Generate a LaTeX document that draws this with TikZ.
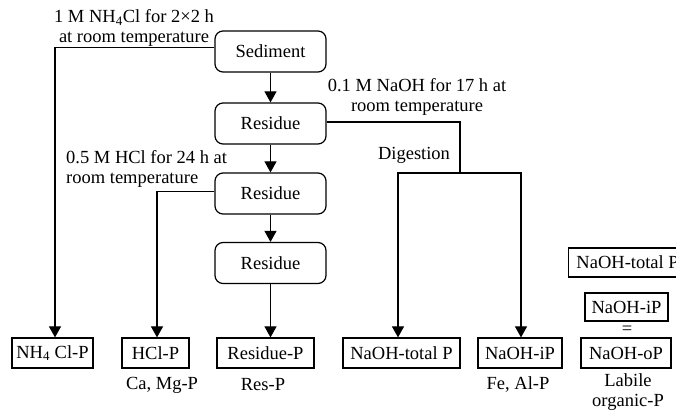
\documentclass[tikz,border=0pt]{standalone}
\usepackage{fontspec}
\setmainfont{Liberation Serif}
\usetikzlibrary{arrows.meta}
\begin{document}
\begin{tikzpicture}[x=1pt,y=-1pt,
  every node/.style={font=\fontsize{18.5}{20}\selectfont, inner sep=0pt},
  rbox/.style={draw, line width=1.2pt, rounded corners=8pt, minimum width=111pt, minimum height=41pt},
  sbox/.style={draw, line width=1.2pt, minimum height=30pt},
  conn/.style={line width=1.1pt},
  arr/.style={line width=1.1pt, -{Triangle[width=12pt,length=11pt]}}]
\clip (0,0) rectangle (676,411);
% main column
\node[rbox] (sed) at (270.5,51.5) {Sediment};
\node[rbox] (r1) at (270.5,123.5) {Residue};
\node[rbox] (r2) at (270.5,193.5) {Residue};
\node[rbox] (r3) at (270.5,263) {Residue};
% bottom boxes
\node[sbox, minimum width=81pt] (nh4) at (52.5,353) {NH\textsubscript{4} Cl-P};
\node[sbox, minimum width=67pt] (hcl) at (155.5,353) {HCl-P};
\node[sbox, minimum width=97pt] (resp) at (265.5,353) {Residue-P};
\node[sbox, minimum width=117pt] (ntot) at (401.5,353) {NaOH-total P};
\node[sbox, minimum width=84pt] (nip) at (520,353) {NaOH-iP};
\node[sbox, minimum width=90pt] (nop) at (626,353) {NaOH-oP};
% right column
\node[sbox, minimum height=29pt, anchor=west, inner xsep=6pt, minimum width=118pt, align=left] (ntot2) at (568,262.5) {NaOH-total P};
\node[sbox, minimum height=28pt, minimum width=83pt] (nip2) at (626.5,307) {NaOH-iP};
\node (eq) at (627,330) {=};
% labels
\node[align=center] (l1) at (134,28) {1 M NH\textsubscript{4}Cl for 2×2 h\\at room temperature};
\node[align=center] (l2) at (417,97) {0.1 M NaOH for 17 h at\\room temperature};
\node[align=left, anchor=west] (l3) at (66,169) {0.5 M HCl for 24 h at\\room temperature};
\node (dig) at (414,155) {Digestion};
\node (cam) at (162,385) {Ca, Mg-P};
\node (resl) at (263,385) {Res-P};
\node (feal) at (518,385) {Fe, Al-P};
\node[align=center] (lab) at (628,392) {Labile\\organic-P};
% connectors
\draw[arr] (sed) -- (r1);
\draw[arr] (r1) -- (r2);
\draw[arr] (r2) -- (r3);
\draw[arr] (r3.south) -- (r3.south |- resp.north);
\draw[arr] ([yshift=4pt]sed.west) -| ([xshift=2.5pt]nh4.north);
\draw[arr] ([yshift=2pt]r2.west) -| ([xshift=1.5pt]hcl.north);
\coordinate (split) at (460,173);
\draw[conn] ([yshift=1.5pt]r1.east) -| (split);
\draw[arr] (split) -| ([xshift=-3.5pt]ntot.north);
\draw[arr] (split) -| ([xshift=1pt]nip.north);
\end{tikzpicture}
\end{document}
